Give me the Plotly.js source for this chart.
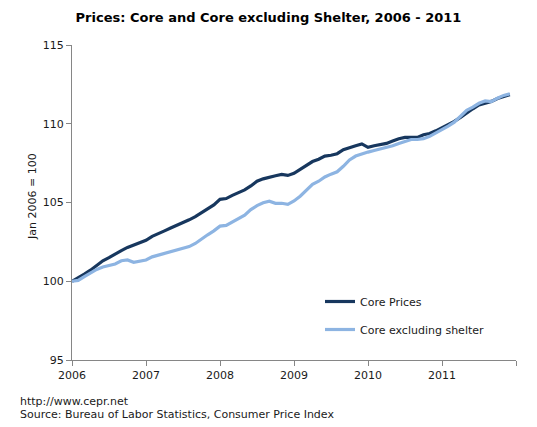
<!DOCTYPE html>
<html>
<head>
<meta charset="utf-8">
<script src="https://cdn.plot.ly/plotly-3.0.1.min.js"></script>
<style>
html,body{margin:0;padding:0;background:#fff;}
#chart{width:537px;height:427px;}
</style>
</head>
<body>
<div id="chart"></div>
<script>
// Monthly index values, Jan 2006 .. Dec 2011 (Jan 2006 = 100)
var monthIndex = [];
for (var i = 0; i < 72; i++) monthIndex.push(i);

var corePrices = [
  100.00, 100.20, 100.45, 100.70, 101.00, 101.30, 101.50, 101.75, 101.95, 102.15, 102.30, 102.45,
  102.60, 102.85, 103.00, 103.20, 103.38, 103.55, 103.70, 103.90, 104.10, 104.35, 104.60, 104.85,
  105.20, 105.25, 105.45, 105.60, 105.80, 106.05, 106.35, 106.50, 106.62, 106.70, 106.78, 106.72,
  106.85, 107.10, 107.35, 107.60, 107.75, 107.95, 108.00, 108.10, 108.35, 108.50, 108.60, 108.72,
  108.50, 108.60, 108.68, 108.75, 108.90, 109.05, 109.13, 109.15, 109.13, 109.30, 109.38, 109.55,
  109.75, 109.90, 110.15, 110.40, 110.70, 110.95, 111.20, 111.30, 111.42, 111.60, 111.75, 111.85
];

var coreExShelter = [
  100.00, 100.05, 100.30, 100.55, 100.75, 100.90, 101.00, 101.10, 101.30, 101.35, 101.20, 101.25,
  101.35, 101.55, 101.65, 101.75, 101.85, 101.98, 102.05, 102.20, 102.40, 102.70, 102.95, 103.20,
  103.50, 103.55, 103.75, 103.95, 104.20, 104.55, 104.80, 104.98, 105.08, 104.95, 104.95, 104.88,
  105.10, 105.40, 105.75, 106.15, 106.35, 106.62, 106.80, 106.95, 107.30, 107.70, 107.95, 108.10,
  108.20, 108.30, 108.40, 108.48, 108.60, 108.75, 108.90, 109.00, 109.00, 109.05, 109.20, 109.40,
  109.65, 109.85, 110.10, 110.45, 110.85, 111.05, 111.30, 111.45, 111.40, 111.62, 111.80, 111.90
];

var yearTickVals = [0, 12, 24, 36, 48, 60, 72];
var yearTickText = ['2006', '2007', '2008', '2009', '2010', '2011', ''];

var seriesNames = ['Core Prices', 'Core excluding shelter'];

var FONT = 'Tahoma, "DejaVu Sans", Verdana, sans-serif';
var TXT = '#1a1a1a';
var AX = '#868686';

var traces = [
  {
    x: monthIndex, y: corePrices, type: 'scatter', mode: 'lines',
    name: seriesNames[0], legendgroup: 'a',
    line: {color: '#17375E', width: 3.2}
  },
  {
    x: monthIndex, y: coreExShelter, type: 'scatter', mode: 'lines',
    name: seriesNames[1], legendgroup: 'b',
    line: {color: '#8DB4E2', width: 3.2}
  }
];

var layout = {
  width: 537, height: 427,
  paper_bgcolor: '#fff', plot_bgcolor: '#fff',
  margin: {l: 72, r: 21, t: 45, b: 67},
  font: {family: FONT, size: 11, color: TXT},
  title: {
    text: '<b>Prices: Core and Core excluding Shelter, 2006 - 2011</b>',
    font: {family: FONT, size: 13, color: '#000'},
    x: 0.5, xref: 'container', xanchor: 'center',
    y: 1 - 17/427, yref: 'container', yanchor: 'middle'
  },
  xaxis: {
    range: [0, 72], tickmode: 'array', tickvals: yearTickVals, ticktext: yearTickText,
    showgrid: false, zeroline: false, showline: true, linecolor: AX, linewidth: 1,
    ticks: 'outside', ticklen: 5, tickcolor: AX, tickwidth: 1,
    tickfont: {family: FONT, size: 11, color: TXT}, fixedrange: true
  },
  yaxis: {
    range: [95, 115], tickmode: 'linear', tick0: 95, dtick: 5,
    showgrid: false, zeroline: false, showline: true, linecolor: AX, linewidth: 1,
    ticks: 'outside', ticklen: 5, tickcolor: AX, tickwidth: 1,
    tickfont: {family: FONT, size: 11, color: TXT}, fixedrange: true
  },
  showlegend: true,
  legend: {
    x: (320 - 72) / 444, xanchor: 'left',
    y: (360 - 287) / 315, yanchor: 'top',
    bgcolor: 'rgba(0,0,0,0)', borderwidth: 0,
    font: {family: FONT, size: 11, color: TXT},
    traceorder: 'grouped', tracegroupgap: 9
  },
  annotations: [
    {
      text: 'Jan 2006 = 100', textangle: -90, showarrow: false,
      xref: 'paper', yref: 'paper', x: (33 - 72) / 444, y: (360 - 197) / 315,
      xanchor: 'center', yanchor: 'middle',
      font: {family: FONT, size: 11, color: TXT}
    },
    {
      text: 'http://www.cepr.net', showarrow: false,
      xref: 'paper', yref: 'paper', x: (18 - 72) / 444, y: (360 - 401) / 315,
      xanchor: 'left', yanchor: 'middle', align: 'left',
      font: {family: FONT, size: 11, color: TXT}
    },
    {
      text: 'Source: Bureau of Labor Statistics, Consumer Price Index', showarrow: false,
      xref: 'paper', yref: 'paper', x: (18 - 72) / 444, y: (360 - 414) / 315,
      xanchor: 'left', yanchor: 'middle', align: 'left',
      font: {family: FONT, size: 11, color: TXT}
    }
  ]
};

Plotly.newPlot('chart', traces, layout, {displayModeBar: false, staticPlot: true});
</script>
</body>
</html>
